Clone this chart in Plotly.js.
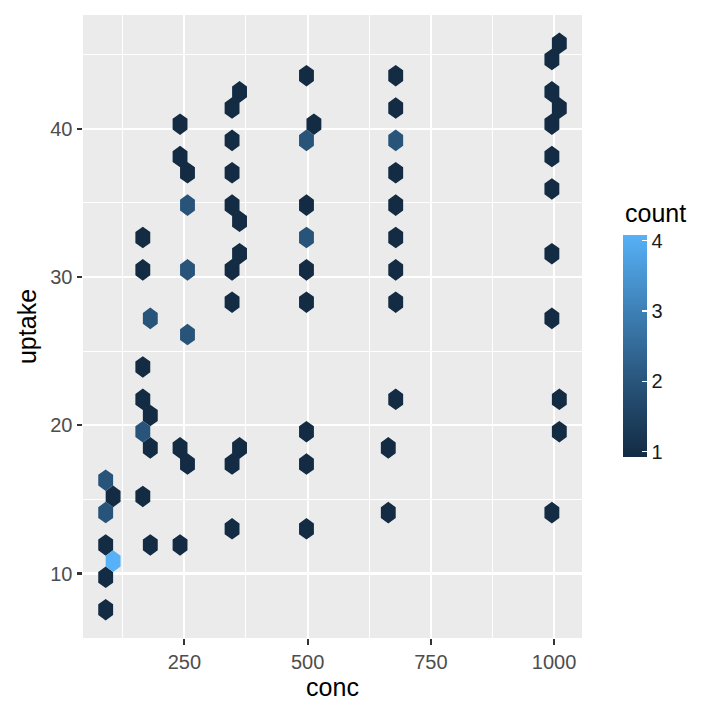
<!DOCTYPE html>
<html>
<head>
<meta charset="utf-8">
<script src="https://cdn.plot.ly/plotly-3.0.1.min.js"></script>
<style>
  html, body { margin: 0; padding: 0; background: #ffffff; }
  #chart { width: 720px; height: 720px; }
</style>
</head>
<body>
<div id="chart"></div>
<script>
// Hexagon centres (conc, uptake) and the number of observations in each bin,
// read from the reference picture (hex grid of ggplot2 geom_hex, bins = 30).
const hexConc = [
  // conc ~95
  90.5, 105.58, 90.5, 90.5, 105.58, 90.5, 90.5,
  // conc ~175
  165.83, 165.83, 181.0, 165.83, 165.83, 181.0, 165.83, 181.0, 165.83, 181.0,
  // conc ~250
  241.33, 241.33, 256.42, 256.42, 256.42, 256.42, 241.33, 256.42, 241.33,
  // conc ~350
  362.0, 346.83, 346.83, 346.83, 346.83, 362.0, 362.0, 346.83, 346.83, 362.0, 346.83, 346.83,
  // conc ~500
  497.75, 512.83, 497.75, 497.75, 497.75, 497.75, 497.75, 497.75, 497.75, 497.75,
  // conc ~675
  678.75, 678.75, 678.75, 678.75, 678.75, 678.75, 678.75, 678.75, 678.75, 663.67, 663.67,
  // conc ~1000
  1010.58, 995.5, 995.5, 1010.58, 995.5, 995.5, 995.5, 995.5, 995.5, 1010.58, 1010.58, 995.5
];
const hexUptake = [
  16.29, 15.20, 14.11, 11.925, 10.834, 9.742, 7.56,
  32.658, 30.475, 27.202, 23.928, 21.746, 20.655, 19.563, 18.472, 15.198, 11.925,
  40.296, 38.114, 37.023, 34.840, 30.475, 26.111, 18.472, 17.381, 11.925,
  42.479, 41.388, 39.205, 37.023, 34.840, 33.749, 31.567, 30.475, 28.293, 18.472, 17.381, 13.016,
  43.570, 40.296, 39.205, 34.840, 32.658, 30.475, 28.293, 19.563, 17.381, 13.016,
  43.570, 41.388, 39.205, 37.023, 34.840, 32.658, 30.475, 28.293, 21.746, 18.472, 14.107,
  45.752, 44.661, 42.479, 41.388, 40.296, 38.114, 35.931, 31.567, 27.202, 21.746, 19.563, 14.107
];
const hexCount = [
  2, 1, 2, 1, 4, 1, 1,
  1, 1, 2, 1, 1, 1, 2, 1, 1, 1,
  1, 1, 1, 2, 2, 2, 1, 1, 1,
  1, 1, 1, 1, 1, 1, 1, 1, 1, 1, 1, 1,
  1, 1, 2, 1, 2, 1, 1, 1, 1, 1,
  1, 1, 2, 1, 1, 1, 1, 1, 1, 1, 1,
  1, 1, 1, 1, 1, 1, 1, 1, 1, 1, 1, 1
];
// bin widths of the hex grid (data units)
const binWidthConc = 30.1667;
const binWidthUptake = 1.26;
const countTicks = [1, 2, 3, 4];

// ggplot2 default continuous colour scale (Lab interpolation, sampled)
const colorStops = [[0, '#132B43'], [1/3, '#28547A'], [2/3, '#3E81B7'], [1, '#56B1F7']];
const cMin = 1, cMax = 4;

function hexToRgb(h) {
  return [parseInt(h.slice(1,3),16), parseInt(h.slice(3,5),16), parseInt(h.slice(5,7),16)];
}
function colorFor(v) {
  const t = Math.min(1, Math.max(0, (v - cMin) / (cMax - cMin)));
  for (let i = 1; i < colorStops.length; i++) {
    if (t <= colorStops[i][0] + 1e-9) {
      const [t0, c0] = colorStops[i-1], [t1, c1] = colorStops[i];
      const f = (t - t0) / (t1 - t0);
      const a = hexToRgb(c0), b = hexToRgb(c1);
      return 'rgb(' + a.map((x, k) => Math.round(x + (b[k]-x)*f)).join(',') + ')';
    }
  }
  return colorStops[colorStops.length-1][1];
}

// hexagon vertex offsets as in ggplot2 (hexbin::hexcoords)
const dx = binWidthConc / 2;
const dy = binWidthUptake / Math.sqrt(3) / 2;
const offX = [dx, 0, -dx, -dx, 0, dx, dx];
const offY = [dy, 2*dy, dy, -dy, -2*dy, -dy, dy];

const levels = [...new Set(hexCount)].sort((a,b) => a-b);
const traces = levels.map(lv => {
  const xs = [], ys = [];
  hexConc.forEach((cx, i) => {
    if (hexCount[i] !== lv) return;
    const cy = hexUptake[i];
    for (let k = 0; k < offX.length; k++) { xs.push(cx + offX[k]); ys.push(cy + offY[k]); }
    xs.push(null); ys.push(null);
  });
  return {
    type: 'scatter', mode: 'lines', x: xs, y: ys,
    fill: 'toself', fillcolor: colorFor(lv),
    line: {width: 0, color: colorFor(lv)},
    hoverinfo: 'skip', showlegend: false
  };
});

// colour bar: ggplot draws 20 colour bins, ticks at bin centres
const nbin = 20;
const pad = (cMax - cMin) * 0.5 / (nbin - 1);
const font = 'Liberation Sans, Arial, sans-serif';

traces.push({
  type: 'scatter', mode: 'markers',
  x: [hexConc[0], hexConc[0]], y: [hexUptake[0], hexUptake[0]],
  marker: {
    size: 0.001, opacity: 0, color: [cMin, cMax], cmin: cMin - pad, cmax: cMax + pad,
    colorscale: colorStops, showscale: true,
    colorbar: {
      xref: 'container', yref: 'container',
      x: 623/720, xanchor: 'left', y: 1 - 400/720, yanchor: 'middle',
      thickness: 24, thicknessmode: 'pixels',
      len: 222, lenmode: 'pixels',
      xpad: 0, ypad: 0, outlinewidth: 0,
      tickvals: countTicks, ticks: 'inside', ticklen: 5, tickwidth: 1.5, tickcolor: '#ffffff',
      tickfont: {family: font, size: 20, color: '#1a1a1a'}
    }
  },
  hoverinfo: 'skip', showlegend: false
});

function expanded(arr) {
  const mn = Math.min(...arr), mx = Math.max(...arr), e = (mx - mn) * 0.05;
  return [mn - e, mx + e];
}

const axisCommon = {
  showgrid: true, gridcolor: '#ffffff', gridwidth: 2.1,
  zeroline: false, showline: false,
  ticks: 'outside', ticklen: 5.5, tickwidth: 2.1, tickcolor: '#333333',
  tickfont: {family: font, size: 20, color: '#4d4d4d'},
};

const layout = {
  width: 720, height: 720,
  paper_bgcolor: '#ffffff', plot_bgcolor: '#ebebeb',
  margin: {l: 83, r: 138, t: 15, b: 82},
  font: {family: font},
  xaxis: Object.assign({}, axisCommon, {
    range: expanded(hexConc), tick0: 0, dtick: 250,
    minor: {dtick: 125, showgrid: true, gridcolor: '#ffffff', gridwidth: 1.05, ticks: ''},
    title: {text: 'conc', font: {family: font, size: 25, color: '#000000'}, standoff: 4}
  }),
  yaxis: Object.assign({}, axisCommon, {
    range: expanded(hexUptake), tick0: 0, dtick: 10,
    minor: {dtick: 5, showgrid: true, gridcolor: '#ffffff', gridwidth: 1.05, ticks: ''},
    title: {text: 'uptake', font: {family: font, size: 25, color: '#000000'}, standoff: 6}
  }),
  annotations: [{
    text: 'count', xref: 'paper', yref: 'paper',
    x: (623 - 83) / (720 - 83 - 138), xanchor: 'left',
    y: (720 - 82 - 213) / (720 - 15 - 82), yanchor: 'middle',
    showarrow: false, font: {family: font, size: 25, color: '#000000'}
  }]
};

Plotly.newPlot('chart', traces, layout, {displayModeBar: false, staticPlot: true});
</script>
</body>
</html>
